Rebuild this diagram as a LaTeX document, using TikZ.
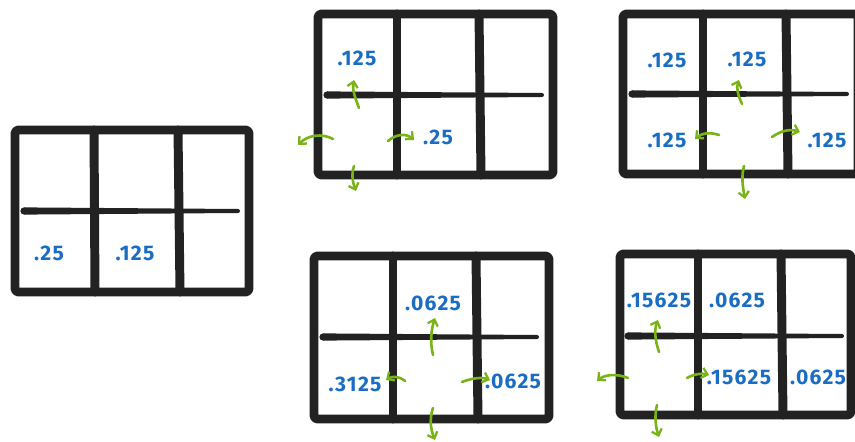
\documentclass[tikz,border=0pt]{standalone}
\usepackage{fontspec}
\setmainfont{Fira Sans}
\newfontfamily\probfont[LetterSpace=6]{Fira Sans}
\usetikzlibrary{arrows.meta}
\definecolor{wallc}{HTML}{222222}
\definecolor{probc}{HTML}{1A6DC2}
\definecolor{movec}{HTML}{7AB317}
\tikzset{
  wall/.style={draw=wallc, line width=5.1pt, line cap=round, line join=round},
  prob/.style={text=probc, font=\probfont\bfseries\fontsize{12}{12}\selectfont, inner sep=0pt},
  move/.style={draw=movec, line width=1.5pt, line cap=round,
    -{Straight Barb[length=3.2pt,width=6pt,line width=1.3pt]}},
}
% tapered middle wall: x from, x to, y
\newcommand{\midwall}[3]{%
  \fill[wallc] (#1,#3-3.6) -- (#2,#3-2) -- (#2,#3+2) -- (#1,#3+3.6) -- cycle;
  \fill[wallc] (#1,#3) circle (3.6);
  \fill[wallc] (#2,#3) circle (2);}
\begin{document}
\begin{tikzpicture}[x=0.02cm, y=-0.02cm]
\useasboundingbox (0,0) rectangle (855,442);
% grid 1
\draw[wall, rounded corners=2pt] (15,130) rectangle (249,292);
\draw[wall] (94,130) -- (95,292);
\draw[wall] (178,130) -- (180,292);
\midwall{24}{238}{211}
\node[prob] (g1a) at (49,253) {.25};
\node[prob] (g1b) at (135,253) {.125};
% grid 2
\draw[wall, rounded corners=2pt] (318,14) rectangle (553,175);
\draw[wall] (397,14) -- (397,175);
\draw[wall] (479,14) -- (481,175);
\midwall{327}{542}{95}
\node[prob] (g2a) at (357,58) {.125};
\node[prob] (g2b) at (438,137) {.25};
\draw[move] (359,108) .. controls (355,97) and (352,90) .. (354,80);
\draw[move] (333,139) .. controls (322,133) and (308,135) .. (298,145);
\draw[move] (388,141) .. controls (396,134) and (406,133) .. (414,140);
\draw[move] (354,166) .. controls (351,175) and (353,183) .. (356,191);
% grid 3
\draw[wall, rounded corners=2pt] (623,14) rectangle (858,174);
\draw[wall] (703,14) -- (703,174);
\draw[wall] (786,14) -- (788,174);
\midwall{632}{847}{94}
\node[prob] (g3a) at (667,60) {.125};
\node[prob] (g3b) at (747,59) {.125};
\node[prob] (g3c) at (667,140) {.125};
\node[prob] (g3d) at (827,140) {.125};
\draw[move] (742,104) .. controls (738,95) and (736,88) .. (739,80);
\draw[move] (719,135) .. controls (710,132) and (702,133) .. (695,139);
\draw[move] (772,137) .. controls (782,130) and (791,129) .. (800,132);
\draw[move] (744,166) .. controls (741,177) and (743,188) .. (745,199);
% grid 4
\draw[wall, rounded corners=2pt] (314,256) rectangle (549,419);
\draw[wall] (393,256) -- (393,419);
\draw[wall] (476,256) -- (478,419);
\midwall{323}{537}{337}
\node[prob] (g4a) at (433,303) {.0625};
\node[prob] (g4b) at (355,384) {.3125};
\node[prob] (g4c) at (513,381) {.0625};
\draw[move] (433,355) .. controls (430,343) and (431,330) .. (435,318);
\draw[move] (405,381) .. controls (399,376) and (392,376) .. (386,380);
\draw[move] (462,382) .. controls (472,378) and (482,377) .. (490,380);
\draw[move] (433,408) .. controls (429,420) and (431,430) .. (435,440);
% grid 5
\draw[wall, rounded corners=2pt] (620,254) rectangle (851,415);
\draw[wall] (698,254) -- (698,415);
\draw[wall] (781,254) -- (783,415);
\midwall{628}{842}{336}
\node[prob] (g5a) at (659,300) {.15625};
\node[prob] (g5b) at (737,300) {.0625};
\node[prob] (g5c) at (739,377) {.15625};
\node[prob] (g5d) at (818,377) {.0625};
\draw[move] (659,352) .. controls (655,340) and (654,330) .. (658,320);
\draw[move] (628,378) .. controls (616,373) and (604,375) .. (597,381);
\draw[move] (687,378) .. controls (694,374) and (702,373) .. (709,375);
\draw[move] (657,405) .. controls (654,417) and (656,428) .. (659,437);
\end{tikzpicture}
\end{document}
